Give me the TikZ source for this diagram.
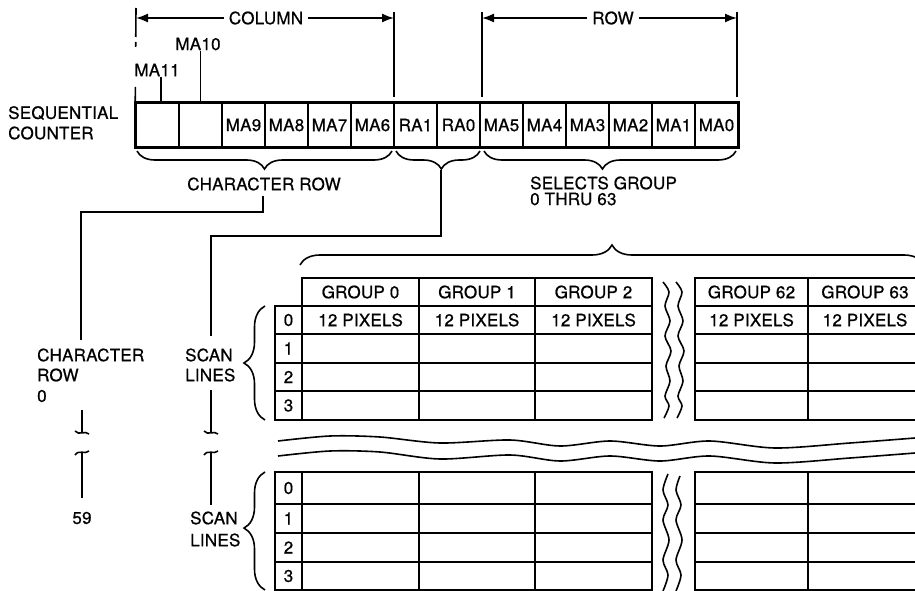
\documentclass[tikz,border=0pt]{standalone}
\usepackage{fontspec}
\setmainfont{TeX Gyre Heros}[LetterSpace=1.5,FakeBold=0.7]
\usetikzlibrary{arrows.meta,decorations.pathreplacing}
\begin{document}
\begin{tikzpicture}[x=1pt,y=-1pt,
  txt/.style={font=\fontsize{17}{20.5}\selectfont, inner sep=0pt},
  ln/.style={line width=1.6pt},
  reg/.style={txt, draw, line width=1.5pt, minimum width=43pt, minimum height=44pt},
  tc/.style={txt, draw, line width=1.7pt},
  dimarr/.style={ln, -{Latex[length=12pt,width=9pt]}},
  brc/.style={ln, decorate, decoration={brace, amplitude=#1}},
]
\useasboundingbox (0,0) rectangle (915,591);
\fill[white] (0,0) rectangle (915,591);

% ---------- register ----------
\foreach \i/\t in {0/{},1/{},2/MA9,3/MA8,4/MA7,5/MA6,6/RA1,7/RA0,8/MA5,9/MA4,10/MA3,11/MA2,12/MA1,13/MA0}
  \node[reg] (c\i) at ({157.5+43*\i},125) {\t};
\draw[line width=3.2pt] (c0.north west) rectangle (c13.south east);

\node[txt,anchor=west] (seq) at (8,113) {SEQUENTIAL};
\node[txt,anchor=west] (cnt) at (8,133) {COUNTER};

\node[txt] (ma11) at (157,70) {MA11};
\node[txt] (ma10) at (198,44) {MA10};
\draw[ln] ([xshift=3.5pt]c0.north) -- ++(0,-25);
\draw[ln] (c1.north) -- ++(0,-51);

% ---------- COLUMN / ROW dimensions ----------
\node[txt, inner xsep=5pt] (col) at (266,18) {COLUMN};
\coordinate (colL) at (136,18);
\coordinate (colR) at (394,18);
\draw[dimarr] (col) -- (colL);
\draw[dimarr] (col) -- (colR);
\draw[ln, dash pattern=on 29pt off 5pt on 5pt off 40pt on 30pt] (136,8) -- (c0.north west);
\draw[ln] (394,12) -- (394,97);

\node[txt, inner xsep=5pt] (row) at (613,18) {ROW};
\coordinate (rowL) at (482,18);
\coordinate (rowR) at (737,18);
\draw[dimarr] (row) -- (rowL);
\draw[dimarr] (row) -- (rowR);
\draw[ln] (482,12) -- (482,97);
\draw[ln] (737,12) -- (737,97);

% ---------- braces under register ----------
\draw[brc=18pt, decoration={aspect=0.5}] (392,151) -- (137,151);
\draw[brc=18pt, decoration={aspect=0.46}] (480,151) -- (396,151);
\draw[brc=18pt, decoration={aspect=0.53}] (736,151) -- (484,151);

\node[txt] (crtxt) at (264,184) {CHARACTER ROW};
\node[txt,anchor=west] (sel1) at (530,183) {SELECTS GROUP};
\node[txt,anchor=west] (sel2) at (530,199) {0 THRU 63};

% ---------- connectors ----------
\coordinate (crA) at (263,196);
\coordinate (crB) at (81,340);
\draw[ln] (crA) -- (263,212) -| (crB);

\coordinate (raA) at (441,170);
\coordinate (raB) at (211,336);
\draw[ln] (raA) -- (441,236) -| (raB);

\node[txt,anchor=west] (chr1) at (37,355) {CHARACTER};
\node[txt,anchor=west] (chr2) at (37,375) {ROW};
\node[txt,anchor=west] (chr3) at (37,396) {0};
\node[txt] (n59) at (82,518) {59};

\node[txt,anchor=west] (sl1a) at (185,355) {SCAN};
\node[txt,anchor=west] (sl1b) at (185,375) {LINES};
\node[txt,anchor=west] (sl2a) at (190,518) {SCAN};
\node[txt,anchor=west] (sl2b) at (190,540) {LINES};

\draw[ln] (82,410) -- (82,433);
\draw[ln] (82,452) -- (82,498);
\draw[ln] (211,390) -- (211,433);
\draw[ln] (211,452) -- (211,505);
\foreach \x in {82,211} {
  \draw[ln] (\x-7,431) .. controls (\x-3,436) and (\x+3,430) .. (\x+7,434);
  \draw[ln] (\x-7,455) .. controls (\x-3,449) and (\x+3,455) .. (\x+7,451);
}

% ---------- big brace over table ----------
\draw[brc=20pt] (300,265) -- (924,265);

% ---------- tables ----------
\foreach \cx/\w/\g in {360.5/117/0, 477/116/1, 593.5/117/2, 751.5/113/62, 865/114/63} {
  \node[tc, minimum width=\w*1pt, minimum height=28pt] (h\g) at (\cx,292) {GROUP \g};
  \node[tc, minimum width=\w*1pt, minimum height=28pt] (ta\g r0) at (\cx,320) {12 PIXELS};
  \node[tc, minimum width=\w*1pt, minimum height=29pt] (ta\g r1) at (\cx,348.5) {};
  \node[tc, minimum width=\w*1pt, minimum height=28pt] (ta\g r2) at (\cx,377) {};
  \node[tc, minimum width=\w*1pt, minimum height=29pt] (ta\g r3) at (\cx,405.5) {};
  \node[tc, minimum width=\w*1pt, minimum height=32pt] (tb\g r0) at (\cx,488) {};
  \node[tc, minimum width=\w*1pt, minimum height=29pt] (tb\g r1) at (\cx,518.5) {};
  \node[tc, minimum width=\w*1pt, minimum height=29pt] (tb\g r2) at (\cx,547.5) {};
  \node[tc, minimum width=\w*1pt, minimum height=28pt] (tb\g r3) at (\cx,576) {};
}
\foreach \r/\cy/\h in {0/320/28,1/348.5/29,2/377/28,3/405.5/29}
  \node[tc, minimum width=27pt, minimum height=\h*1pt] (ia\r) at (288.5,\cy) {\r};
\foreach \r/\cy/\h in {0/488/32,1/518.5/29,2/547.5/29,3/576/28}
  \node[tc, minimum width=27pt, minimum height=\h*1pt] (ib\r) at (288.5,\cy) {\r};

% scan-line braces
\draw[brc=21pt, decoration={aspect=0.5}] (265,420) -- (265,306);
\draw[brc=21pt, decoration={aspect=0.525}] (265,590) -- (265,472);

% ---------- break lines ----------
\draw[ln] plot[smooth] coordinates {(663,282) (669,292) (665,306) (670,321) (665,336) (671,351) (666,366) (670,381) (665,396) (669,406) (664,418)};
\draw[ln] plot[smooth] coordinates {(676,282) (682,292) (678,306) (683,321) (678,336) (684,351) (679,366) (683,381) (678,396) (682,406) (677,418)};
\draw[ln] plot[smooth] coordinates {(668,474) (663,490) (668,505) (663,520) (669,540) (663,560) (668,575) (663,591)};
\draw[ln] plot[smooth] coordinates {(680,476) (676,490) (681,505) (676,520) (682,540) (676,560) (681,575) (676,591)};

\draw[ln] plot[smooth] coordinates {(278,441) (330,436) (380,437) (440,443) (510,440) (560,446) (610,441) (660,446) (710,441) (775,448) (850,443) (915,438)};
\draw[ln] plot[smooth] coordinates {(278,456) (330,451) (380,452) (440,459) (510,455) (560,461) (610,456) (660,461) (710,456) (775,463) (850,458) (915,453)};
\end{tikzpicture}
\end{document}
